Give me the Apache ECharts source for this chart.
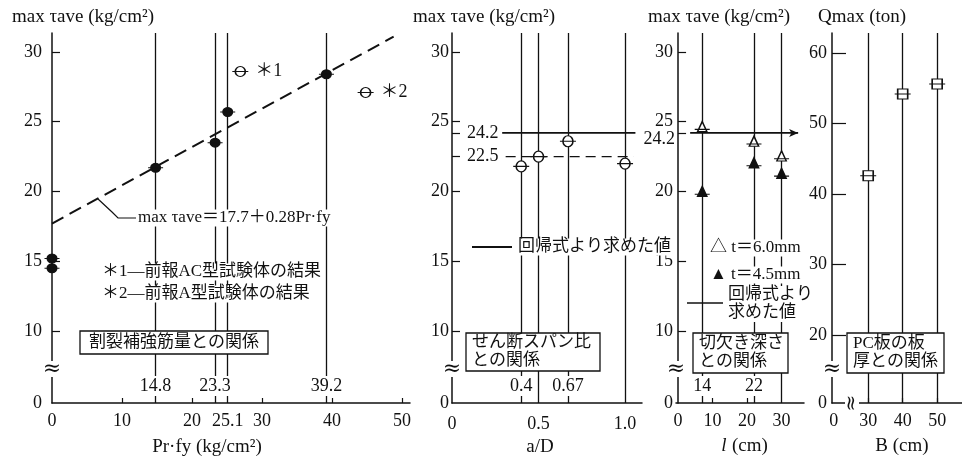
<!DOCTYPE html>
<html><head><meta charset="utf-8">
<script src="https://cdn.jsdelivr.net/npm/echarts@6/dist/echarts.min.js"></script>
<style>html,body{margin:0;padding:0;background:#fff}#c{width:962px;height:458px}</style>
</head><body><div id="c"></div>
<script>
// ---------------- data ----------------
const yTickValues = [0, 10, 15, 20, 25, 30];

// panel 1 : Pr·fy
const p1XTicks = [0, 10, 20, 25.1, 30, 40, 50];
const p1LineX = [14.8, 23.3, 25.1, 39.2];
const p1LineLabels = ['14.8', '23.3', '', '39.2'];
const p1FilledX = [0, 0, 14.8, 23.3, 25.1, 39.2];
const p1FilledY = [15.2, 14.5, 21.7, 23.5, 25.7, 28.4];
const p1OpenX = [26.9, 44.8];
const p1OpenY = [28.6, 27.1];
const p1OpenLabels = ['＊1', '＊2'];
const p1RegX = [0, 48.8];
const p1RegY = [17.7, 31.1];

// panel 2 : a/D
const p2XTicks = [0, 0.5, 1.0];
const p2XTickLabels = ['0', '0.5', '1.0'];
const p2LineX = [0.4, 0.5, 0.67, 1.0];
const p2LineLabels = ['0.4', '', '0.67', ''];
const p2Y = [21.8, 22.5, 23.6, 22.0];
const p2RegValue = 24.2;
const p2RegX = [0.29, 1.06];
const p2MeanValue = 22.5;
const p2MeanX = [0.31, 1.05];

// panel 3 : l (cm)
const p3XTicks = [0, 10, 20, 30];
const p3LineX = [7, 22, 30];
const p3LineLabels = ['14', '22', ''];
const p3OpenY = [24.65, 23.6, 22.55];   // t = 6.0mm
const p3FilledY = [20.0, 22.05, 21.3];  // t = 4.5mm
const p3RegValue = 24.2;
const p3RegX = [3.5, 34.8];

// panel 4 : B (cm)
const p4XTicks = [0, 30, 40, 50];
const p4YTicks = [0, 20, 30, 40, 50, 60];
const p4LineX = [30, 40, 50];
const p4Y = [42.6, 54.2, 55.6];

// ---------------- layout / style ----------------
const Z_Y = 4.84;     // display value standing for 0 on broken y axes (panels 1-3)
const Z4_Y = 10.35;   // display value standing for 0 on panel 4 y
const Z4_X = 20;      // display value standing for 0 on panel 4 x
const INK = '#111';
const MIX = '"Liberation Serif","Noto Sans CJK JP",serif';
const FS = 18;

const zip = (xs, ys) => xs.map((x, i) => [x, ys[i]]);
const CIRCLE = 'path://M-3,5 L13,5 M0,5 A5,5 0 1 1 10,5 A5,5 0 1 1 0,5 Z';
const TRI = 'path://M-3,7 L13,7 M5,0 L10,9 L0,9 Z';
const SQUARE = 'path://M-3,5 L13,5 M0,0 L10,0 L10,10 L0,10 Z';

const grids = [
  {left: 52, top: 33, width: 358, height: 370},
  {left: 452, top: 33, width: 190, height: 370},
  {left: 676, top: 33, width: 128, height: 370},
  {left: 832, top: 33, width: 130, height: 370}
];

function xAx(gi, min, max, labelVals, fmt, tickVals, margin) {
  return {
    gridIndex: gi, type: 'value', min: min, max: max,
    axisLine: {show: true, lineStyle: {color: INK, width: 1.5}},
    axisTick: {show: true, inside: true, length: 5, customValues: tickVals, lineStyle: {color: INK, width: 1.2}},
    axisLabel: {customValues: labelVals, formatter: fmt, margin: margin, fontSize: FS, fontFamily: MIX, color: INK},
    splitLine: {show: false}
  };
}
function yAx(gi, min, max, labelVals, fmt, tickVals, margin, tlen) {
  return {
    gridIndex: gi, type: 'value', min: min, max: max,
    axisLine: {show: true, lineStyle: {color: INK, width: 1.5}},
    axisTick: {show: true, inside: true, length: tlen, customValues: tickVals, lineStyle: {color: INK, width: 1.2}},
    axisLabel: {customValues: labelVals, formatter: fmt, margin: margin, fontSize: FS, fontFamily: MIX, color: INK},
    splitLine: {show: false}
  };
}
const yFmt = v => (v < Z_Y + 0.01 ? '0' : String(v));
const yLabelVals = yTickValues.map(v => (v === 0 ? Z_Y : v));
const yTickVals = yTickValues.filter(v => v !== 0);

const vLines = xs => ({
  symbol: 'none', silent: true, label: {show: false},
  lineStyle: {color: INK, width: 1.3, type: 'solid'},
  data: xs.map(x => ({xAxis: x}))
});

const option = {
  animation: false,
  backgroundColor: '#fff',
  grid: grids,
  xAxis: [
    xAx(0, 0, 51.14, p1XTicks, v => String(v), [10, 20, 30, 40, 50], 9),
    xAx(1, 0, 1.098, p2XTicks, v => p2XTickLabels[p2XTicks.indexOf(v)] || String(v), [], 12),
    xAx(2, -0.6, 36.5, p3XTicks, v => String(v), [10, 20], 9),
    xAx(3, 19.5, 57.2, p4XTicks.map(v => (v === 0 ? Z4_X : v)), v => (v === Z4_X ? '0' : String(v)), [30, 40, 50], 9)
  ],
  yAxis: [
    yAx(0, Z_Y, 31.36, yLabelVals, yFmt, yTickVals, 10, 8),
    yAx(1, Z_Y, 31.36, yLabelVals, yFmt, yTickVals.concat([p2MeanValue, p2RegValue]), 3, 8),
    yAx(2, Z_Y, 31.36, yLabelVals, yFmt, yTickVals.concat([p3RegValue]), 3, 8),
    yAx(3, Z4_Y, 62.84, p4YTicks.map(v => (v === 0 ? Z4_Y : v)), v => (v < Z4_Y + 0.01 ? '0' : String(v)), [20, 30, 40, 50, 60], 5, 14)
  ],
  series: [
    // panel 1
    {type: 'line', xAxisIndex: 0, yAxisIndex: 0, data: zip(p1RegX, p1RegY), showSymbol: false, symbol: 'none',
     lineStyle: {color: INK, width: 2, type: [13, 7]}, z: 3},
    {type: 'scatter', xAxisIndex: 0, yAxisIndex: 0, data: zip(p1FilledX, p1FilledY),
     symbol: CIRCLE, symbolSize: [15, 9], itemStyle: {color: INK, borderColor: INK, borderWidth: 1.3, opacity: 1},
     markLine: vLines(p1LineX), z: 5},
    {type: 'scatter', xAxisIndex: 0, yAxisIndex: 0, data: zip(p1OpenX, p1OpenY),
     symbol: CIRCLE, symbolSize: [16, 10], itemStyle: {color: '#fff', borderColor: INK, borderWidth: 1.3, opacity: 1},
     label: {show: true, position: 'right', distance: 6, formatter: p => p1OpenLabels[p.dataIndex],
             fontSize: FS, fontFamily: MIX, color: INK}, z: 5},
    // panel 2
    {type: 'line', xAxisIndex: 1, yAxisIndex: 1, data: p2RegX.map(x => [x, p2RegValue]), showSymbol: false, symbol: 'none',
     lineStyle: {color: INK, width: 1.8, type: 'solid'}, z: 3},
    {type: 'line', xAxisIndex: 1, yAxisIndex: 1, data: p2MeanX.map(x => [x, p2MeanValue]), showSymbol: false, symbol: 'none',
     lineStyle: {color: INK, width: 1.4, type: [10, 6]}, z: 3},
    {type: 'scatter', xAxisIndex: 1, yAxisIndex: 1, data: zip(p2LineX, p2Y),
     symbol: CIRCLE, symbolSize: [16, 11], itemStyle: {color: '#fff', borderColor: INK, borderWidth: 1.3, opacity: 1},
     markLine: vLines(p2LineX), z: 5},
    // panel 3
    {type: 'line', xAxisIndex: 2, yAxisIndex: 2,
     data: [{value: [p3RegX[0], p3RegValue], symbol: 'none'},
            {value: [p3RegX[1], p3RegValue], symbol: 'arrow', symbolSize: [6, 9], symbolRotate: -90}],
     showSymbol: true, lineStyle: {color: INK, width: 1.6}, itemStyle: {color: INK}, z: 3},
    {type: 'scatter', xAxisIndex: 2, yAxisIndex: 2, data: zip(p3LineX, p3OpenY),
     symbol: TRI, symbolSize: [15, 10], itemStyle: {color: '#fff', borderColor: INK, borderWidth: 1.3, opacity: 1},
     markLine: vLines(p3LineX), z: 5},
    {type: 'scatter', xAxisIndex: 2, yAxisIndex: 2, data: zip(p3LineX, p3FilledY),
     symbol: TRI, symbolSize: [15, 10], itemStyle: {color: INK, borderColor: INK, borderWidth: 1.3, opacity: 1}, z: 5},
    // panel 4
    {type: 'scatter', xAxisIndex: 3, yAxisIndex: 3, data: zip(p4LineX, p4Y),
     symbol: SQUARE, symbolSize: [16, 10], itemStyle: {color: '#fff', borderColor: INK, borderWidth: 1.3, opacity: 1},
     markLine: vLines(p4LineX), z: 5}
  ]
};

const chart = echarts.init(document.getElementById('c'), null, {renderer: 'canvas'});
chart.setOption(option);

// ---------------- annotations ----------------
function T(text, x, y, o) {
  o = o || {};
  const st = {
    text: text, x: 0, y: 0, fill: INK,
    font: (o.italic ? 'italic ' : '') + (o.size || FS) + 'px ' + (o.fam || MIX),
    align: o.align || 'left', textAlign: o.align || 'left',
    verticalAlign: o.va || 'middle', textVerticalAlign: o.va || 'middle'
  };
  if (o.lh) st.lineHeight = o.lh;
  if (o.bg) { st.backgroundColor = '#fff'; st.padding = o.pad || [0, 1]; }
  return {type: 'text', z: 100, x: x, y: y, rotation: o.rot || 0, style: st};
}
function R(x, y, w, h) {
  return {type: 'rect', z: 99, shape: {x: x, y: y, width: w, height: h}, style: {fill: '#fff', stroke: INK, lineWidth: 1.3}};
}
function L(x1, y1, x2, y2, w) {
  return {type: 'line', z: 100, shape: {x1: x1, y1: y1, x2: x2, y2: y2}, style: {stroke: INK, lineWidth: w || 1.5}};
}
const px = (gi, x, y) => chart.convertToPixel({gridIndex: gi}, [x, y]);

const g = [];
// axis titles
g.push(T('max τave (kg/cm²)', 12, 17, {size: 19}));
g.push(T('max τave (kg/cm²)', 413, 17, {size: 19}));
g.push(T('max τave (kg/cm²)', 648, 17, {size: 19}));
g.push(T('Qmax (ton)', 818, 17, {size: 19}));
g.push(T('Pr·fy (kg/cm²)', 207, 447, {align: 'center', size: 19}));
g.push(T('a/D', 540, 447, {align: 'center', size: 19}));
g.push(T('l', 724, 446, {align: 'center', italic: true, size: 19}));
g.push(T('(cm)', 732, 446, {size: 19}));
g.push(T('B (cm)', 902, 446, {align: 'center', size: 19}));

// labels on vertical lines
[[0, p1LineX, p1LineLabels], [1, p2LineX, p2LineLabels], [2, p3LineX, p3LineLabels]].forEach(([gi, xs, labs]) => {
  xs.forEach((x, i) => {
    if (!labs[i]) return;
    const p = px(gi, x, 10);
    g.push(T(labs[i], p[0], 386, {align: 'center', bg: true, pad: [1, 1]}));
  });
});

// broken-axis marks
[0, 1, 2, 3].forEach(gi => {
  const ax = grids[gi].left;
  g.push(T('≈', ax, 369, {align: 'center', bg: true, pad: [-3, 0], size: 22, fam: '"DejaVu Serif"'}));
});
g.push(T('≈', 852, 403, {align: 'center', bg: true, pad: [-3, 0], size: 20, rot: Math.PI / 2, fam: '"DejaVu Serif"'}));

// panel 1 texts
g.push({type: 'polyline', z: 100, shape: {points: [[98, 199], [112, 212], [118, 218], [136, 218]]}, style: {stroke: INK, lineWidth: 1.2, fill: null}});
g.push(T('max τave＝17.7＋0.28Pr·fy', 137, 218, {bg: true, size: 17}));
g.push(T('＊1―前報AC型試験体の結果', 101, 272, {bg: true, size: 17}));
g.push(T('＊2―前報A型試験体の結果', 101, 294, {bg: true, size: 17}));
g.push(R(80, 331, 188, 23));
g.push(T('割裂補強筋量との関係', 174, 343, {align: 'center', size: 17}));

// panel 2 texts
const p2r = px(1, 0, p2RegValue), p2m = px(1, 0, p2MeanValue);
g.push(T(String(p2RegValue), p2r[0] + 15, p2r[1], {size: 18}));
g.push(T(String(p2MeanValue), p2m[0] + 15, p2m[1], {size: 18}));
g.push(L(472, 247, 512, 247, 2));
g.push(T('回帰式より求めた値', 517, 247, {bg: true, size: 17}));
g.push(R(466, 333, 134, 38));
g.push(T('せん断スパン比\nとの関係', 472, 352, {size: 17, lh: 18}));

// panel 3 texts
const p3r = px(2, 0, p3RegValue);
g.push(T(String(p3RegValue), p3r[0] - 3, p3r[1] + 6, {align: 'right', size: 18}));
g.push(T('△ t＝6.0mm', 709, 248, {bg: true, size: 17}));
g.push(T('▲ t＝4.5mm', 709, 275, {bg: true, size: 17}));
g.push(L(687, 303, 723, 303, 1.6));
g.push(T('回帰式より\n求めた値', 727, 304, {bg: true, size: 17, lh: 18}));
g.push(R(693, 333, 95, 40));
g.push(T('切欠き深さ\nとの関係', 699, 353, {size: 17, lh: 18}));

// panel 4 texts
g.push(R(847, 333, 97, 40));
g.push(T('PC板の板\n厚との関係', 853, 353, {size: 17, lh: 18}));

chart.setOption({graphic: {elements: g}});
</script>
</body></html>
